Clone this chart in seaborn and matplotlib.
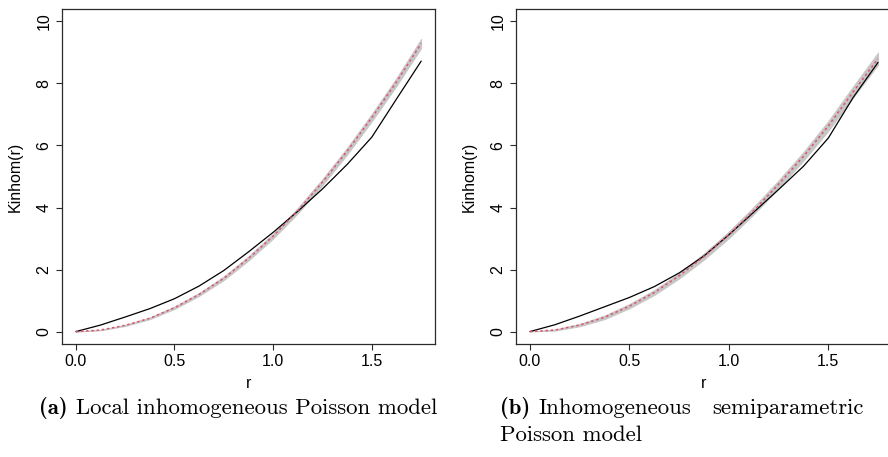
import numpy as np
import pandas as pd
import matplotlib
matplotlib.use("Agg")
import matplotlib.pyplot as plt
import seaborn as sns

# ---------------- data ----------------
r_vals = [0.0, 0.125, 0.25, 0.375, 0.5, 0.625, 0.75, 0.875, 1.0,
          1.125, 1.25, 1.375, 1.5, 1.625, 1.75]

# panel (a): local inhomogeneous Poisson model
obs_a = [0.0, 0.21, 0.47, 0.74, 1.06, 1.47, 1.97, 2.57, 3.2,
         3.88, 4.6, 5.39, 6.27, 7.5, 8.72]
theo_a = [0.0, 0.05, 0.2, 0.43, 0.77, 1.2, 1.72, 2.36, 3.08,
          3.9, 4.82, 5.82, 6.9, 8.05, 9.29]
lo_a = [0.0, 0.04, 0.18, 0.4, 0.73, 1.15, 1.66, 2.29, 3.0,
        3.81, 4.72, 5.71, 6.78, 7.92, 9.14]
hi_a = [0.0, 0.06, 0.22, 0.46, 0.81, 1.25, 1.78, 2.43, 3.16,
        3.99, 4.92, 5.93, 7.02, 8.18, 9.44]

# panel (b): inhomogeneous semiparametric Poisson model
obs_b = [0.0, 0.22, 0.5, 0.8, 1.1, 1.45, 1.89, 2.44, 3.12,
         3.85, 4.58, 5.33, 6.24, 7.55, 8.68]
theo_b = [0.0, 0.05, 0.21, 0.46, 0.82, 1.26, 1.8, 2.42, 3.12,
          3.9, 4.75, 5.65, 6.63, 7.73, 8.8]
lo_b = [0.0, 0.03, 0.17, 0.4, 0.75, 1.18, 1.71, 2.32, 3.01,
        3.78, 4.62, 5.51, 6.47, 7.55, 8.6]
hi_b = [0.0, 0.07, 0.25, 0.52, 0.89, 1.34, 1.89, 2.52, 3.23,
        4.02, 4.88, 5.79, 6.79, 7.91, 9.0]

x_ticks = [0.0, 0.5, 1.0, 1.5]
x_tick_labels = ["0.0", "0.5", "1.0", "1.5"]
y_ticks = [0, 2, 4, 6, 8, 10]
y_tick_labels = ["0", "2", "4", "6", "8", "10"]
x_label = "r"
y_label = "Kinhom(r)"
cap_a_tag, cap_a_text = "(a)", "Local inhomogeneous Poisson model"
cap_b_tag, cap_b_word1, cap_b_word2 = "(b)", "Inhomogeneous", "semiparametric"
cap_b_line2 = "Poisson model"

# ---------------- style ----------------
sns.set_theme(style="white")
plt.rcParams["font.family"] = ["Liberation Sans", "DejaVu Sans"]

W, H = 888, 457
fig = plt.figure(figsize=(W / 100, H / 100), dpi=100)


def add_ax(x0, y0, x1, y1):
    return fig.add_axes([x0 / W, 1 - y1 / H, (x1 - x0) / W, (y1 - y0) / H])


EDGE = "#2a2a2a"
RED = "#DF536B"
BAND = "#c6c6c6"


def draw(ax, obs, theo, lo, hi):
    df = pd.DataFrame({"r": r_vals, "obs": obs, "theo": theo, "lo": lo, "hi": hi})
    ax.fill_between(df["r"], df["lo"], df["hi"], color=BAND, lw=0.6,
                    edgecolor=BAND, zorder=1)
    sns.lineplot(data=df, x="r", y="obs", ax=ax, color="black", lw=0.9,
                 zorder=3, sort=False)
    sns.lineplot(data=df, x="r", y="theo", ax=ax, color=RED, lw=1.1,
                 linestyle=(0, (1.6, 1.8)), zorder=4, sort=False)
    ax.set_xlim(-0.07, 1.82)
    ax.set_ylim(-0.4, 10.4)
    ax.set_xticks(x_ticks)
    ax.set_xticklabels(x_tick_labels)
    ax.set_yticks(y_ticks)
    ax.set_yticklabels(y_tick_labels)
    for s in ax.spines.values():
        s.set_color(EDGE)
        s.set_linewidth(0.9)
    ax.tick_params(direction="out", length=4.5, width=0.8, color=EDGE,
                   labelsize=11.5, labelcolor="black", pad=3,
                   bottom=True, left=True)
    ax.tick_params(axis="y", labelrotation=90)
    for t in ax.get_yticklabels():
        t.set_va("center")
    ax.set_xlabel(x_label, fontsize=11.5, color="black", labelpad=5)
    ax.set_ylabel(y_label, fontsize=11.5, color="black", labelpad=10)
    ax.grid(False)


ax_a = add_ax(62, 9, 435, 344)
ax_b = add_ax(516, 9, 892, 344)
draw(ax_a, obs_a, theo_a, lo_a, hi_a)
draw(ax_b, obs_b, theo_b, lo_b, hi_b)

# ---------------- captions (LaTeX-like, Computer Modern) ----------------
CAP_FS = 16.4
renderer = fig.canvas.get_renderer()


def put(x, y, s, bold=False, ha="left"):
    t = fig.text(x / W, 1 - y / H, s, family="cmb10" if bold else "cmr10",
                 fontsize=CAP_FS, color="black", ha=ha, va="baseline")
    return t


def width(t):
    return t.get_window_extent(renderer).width


space = 0.36 * CAP_FS * 100 / 72
y1, y2 = 414, 441

# (a) centred
ta = put(0, y1, cap_a_tag, bold=True)
tb = put(0, y1, cap_a_text)
total = width(ta) + space + width(tb)
xa = 238 - total / 2
ta.set_x(xa / W)
tb.set_x((xa + width(ta) + space) / W)

# (b) justified first line (stretch in the word gap), second line flush left
xb0, xb1 = 500, 864
t1 = put(xb0, y1, cap_b_tag, bold=True)
t2 = put(xb0 + width(t1) + space, y1, cap_b_word1)
t3 = put(xb1, y1, cap_b_word2, ha="right")
t4 = put(xb0, y2, cap_b_line2)

fig.savefig("out.png", dpi=100)
